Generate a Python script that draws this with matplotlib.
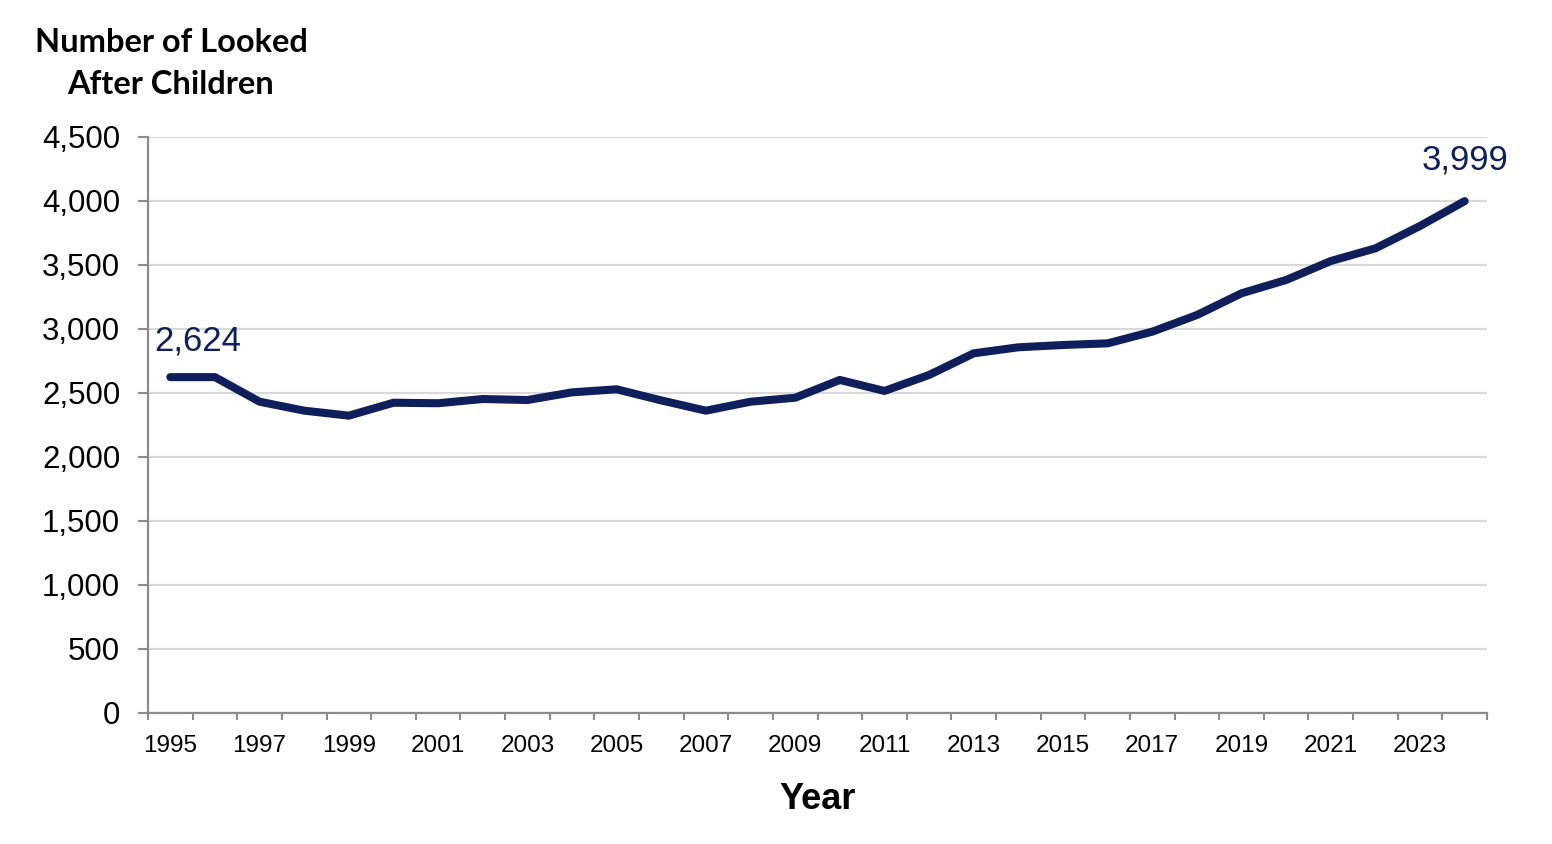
import numpy as np
import matplotlib.pyplot as plt
from matplotlib.ticker import FuncFormatter, MultipleLocator, FixedLocator

years = list(range(1995, 2025))
children = [2624, 2624, 2432, 2362, 2323, 2424, 2420, 2453, 2445, 2505,
            2529, 2442, 2362, 2432, 2463, 2602, 2516, 2641, 2810, 2857,
            2875, 2888, 2979, 3109, 3279, 3383, 3531, 3630, 3805, 3999]
year_labels = [str(y) if (y - 1995) % 2 == 0 else '' for y in years]

navy = '#0e1f5b'
spine_grey = '#8c8c8c'

plt.rcParams['font.family'] = ['Liberation Sans', 'DejaVu Sans']

fig = plt.figure(figsize=(15.52, 8.44), dpi=100)
ax = fig.add_axes([148 / 1552, 131 / 844, (1487 - 148) / 1552, (713 - 137) / 844])

x = np.arange(len(years))
ax.plot(x, children, color=navy, lw=5.8, solid_capstyle='round', solid_joinstyle='round', zorder=3)

ax.set_xlim(-0.5, len(years) - 0.5)
ax.set_ylim(0, 4500)
ax.yaxis.set_major_locator(MultipleLocator(500))
ax.yaxis.set_major_formatter(FuncFormatter(lambda v, p: f'{int(v):,}'))
ax.grid(axis='y', color='#d9d9d9', lw=1.6, zorder=0)
ax.set_axisbelow(True)

# year labels at category centres, ticks at the boundaries
ax.xaxis.set_major_locator(FixedLocator(x))
ax.set_xticklabels(year_labels)
ax.xaxis.set_minor_locator(FixedLocator(np.arange(len(years) + 1) - 0.5))
ax.tick_params(axis='x', which='major', length=0, pad=15.5, labelsize=17.5)
ax.tick_params(axis='x', which='minor', length=5, width=1.5, color=spine_grey)
ax.tick_params(axis='y', length=7, width=1.5, color=spine_grey, pad=13, labelsize=22.5)

for s in ['top', 'right']:
    ax.spines[s].set_visible(False)
for s in ['left', 'bottom']:
    ax.spines[s].set_color(spine_grey)
    ax.spines[s].set_linewidth(1.6)

# first and last values
ax.annotate(f'{children[0]:,}', (x[0], children[0]), xytext=(20, 19), textcoords='offset points',
            ha='center', va='baseline', fontsize=25, color=navy)
ax.annotate(f'{children[-1]:,}', (x[-1], children[-1]), xytext=(0, 23), textcoords='offset points',
            ha='center', va='baseline', fontsize=25, color=navy)

ax.set_xlabel('Year', fontsize=26, fontweight='bold', labelpad=18)
fig.text(171 / 1552, 1 - 52 / 844, 'Number of Looked', ha='center', va='baseline',
         fontsize=23.5, fontweight='bold', family=['Lato', 'DejaVu Sans'])
fig.text(171 / 1552, 1 - 94 / 844, 'After Children', ha='center', va='baseline',
         fontsize=23.5, fontweight='bold', family=['Lato', 'DejaVu Sans'])

fig.savefig('out.png', dpi=100)
